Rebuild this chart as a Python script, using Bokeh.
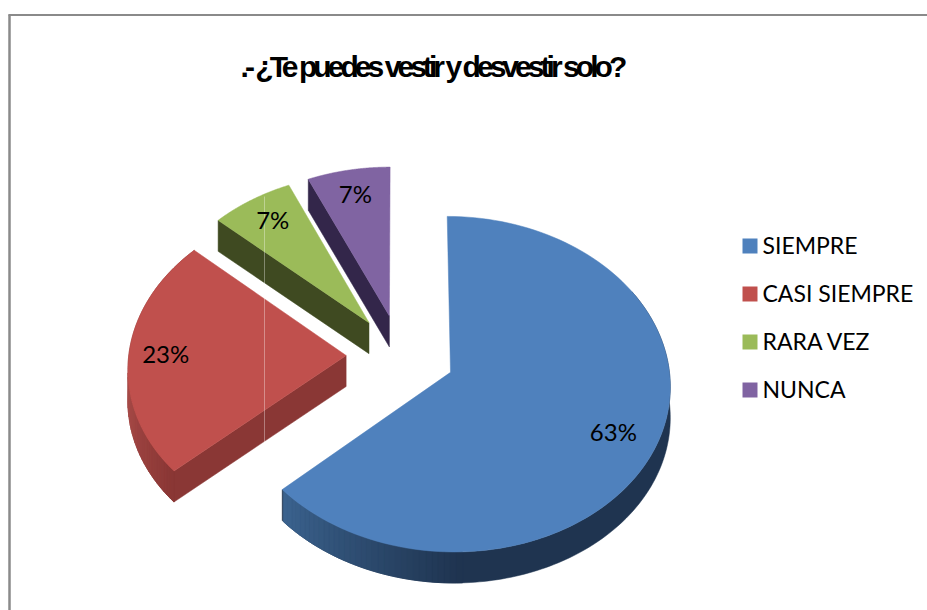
import math
import numpy as np
from bokeh.plotting import figure
from bokeh.models import Range1d
from bokeh.core.properties import value
from bokeh.embed import file_html
from bokeh.resources import INLINE

# ---- data ----
categories = ["SIEMPRE", "CASI SIEMPRE", "RARA VEZ", "NUNCA"]
counts = [19, 7, 2, 2]
pct_labels = ["63%", "23%", "7%", "7%"]
title_text = ".- ¿Te puedes vestir y desvestir solo?"

# ---- styles ----
top_colors = ["#4f81bd", "#c0504d", "#9bbb59", "#8064a2"]
face_colors = [None, "#8a3735", "#3f4a21", "#33264a"]

# ---- projection of the 3-D pie ----
CX, CY, R, Q, K, DEPTH, EXPLODE = 400.0, 355.0, 217.4, 0.757, 0.07, 31, 0.25
label_r = [0.79, 0.83, 0.81, 0.82]
label_dy = [4, -2, -3, -2]


def project(u, v, drop=0.0):
    d = 1 + K * v
    return CX + R * u / d, CY - R * Q * v / d + drop


def lerp_hex(a, b, f):
    f = max(0.0, min(1.0, f))
    ca = [int(a[i:i + 2], 16) for i in (1, 3, 5)]
    cb = [int(b[i:i + 2], 16) for i in (1, 3, 5)]
    return "#%02x%02x%02x" % tuple(round(x + (y - x) * f) for x, y in zip(ca, cb))


total = sum(counts)
edges = np.cumsum([0] + counts) / total * 360.0

p = figure(width=927, height=610, x_range=Range1d(0, 927), y_range=Range1d(610, 0),
           x_axis_location=None, y_axis_location=None, toolbar_location=None,
           output_backend="svg", min_border=0, outline_line_color=None,
           background_fill_color="white", border_fill_color="white")
p.grid.visible = False

# chart frame
p.segment([8], [14.5], [927], [14.5], line_color="#8a8a8a", line_width=2)
p.segment([9], [14], [9], [610], line_color="#8a8a8a", line_width=2.5)


def offset(i):
    mid = math.radians((edges[i] + edges[i + 1]) / 2)
    return EXPLODE * math.sin(mid), EXPLODE * math.cos(mid)


def rim(i, t, r=1.0):
    a = math.radians(t)
    ou, ov = offset(i)
    return ou + r * math.sin(a), ov + r * math.cos(a)


# back-to-front
for i in [3, 2, 1, 0]:
    t0, t1 = edges[i], edges[i + 1]
    ou, ov = offset(i)
    # cut face
    if i > 0:
        cu, cv = rim(i, t0)
        xs, ys = zip(project(ou, ov), project(cu, cv), project(cu, cv, DEPTH), project(ou, ov, DEPTH))
        p.patch(list(xs), list(ys), fill_color=face_colors[i], line_color=face_colors[i], line_width=0.5)
    # rim wall: one base polygon, then colour bands over it
    if i < 2:
        start = t0 + 60 if i == 0 else t0
        arc = np.linspace(start, t1, 150)
        upper = [project(*rim(i, t)) for t in arc]
        lower = [project(*rim(i, t), DEPTH) for t in arc[::-1]]
        base = "#1f3450" if i == 0 else "#8a3735"
        p.patch([q[0] for q in upper + lower], [q[1] for q in upper + lower],
                fill_color=base, line_color=base, line_width=0.5)
        band_lo, band_hi = (178, t1) if i == 0 else (t0, t0 + 36)
        ts = np.arange(band_lo, band_hi + 0.01, 1.5)
        qx, qy, qc = [], [], []
        for a, b in zip(ts[:-1], ts[1:]):
            ua, va = rim(i, a)
            ub, vb = rim(i, b)
            pts = [project(ua, va), project(ub, vb), project(ub, vb, DEPTH), project(ua, va, DEPTH)]
            qx.append([q[0] for q in pts])
            qy.append([q[1] for q in pts])
            if i == 0:
                qc.append(lerp_hex("#1f3450", "#3c6490", (a - 178) / 50))
            else:
                qc.append(lerp_hex("#8a3735", "#a64a47", (a - t0) / 30))
        p.patches(qx, qy, fill_color=qc, line_color=qc, line_width=0.8)
    # top face
    ts = np.linspace(t0, t1, 120)
    pts = [project(ou, ov)] + [project(*rim(i, t)) for t in ts]
    p.patch([q[0] for q in pts], [q[1] for q in pts], fill_color=top_colors[i],
            line_color=top_colors[i], line_width=0.5)

# faint vertical scan seam across the red and green slices
p.segment([264], [196], [264], [445], line_color="white", line_alpha=0.35, line_width=1)

# percentage labels
for i, lab in enumerate(pct_labels):
    mid = (edges[i] + edges[i + 1]) / 2
    x, y = project(*rim(i, mid, label_r[i]))
    p.text([x], [y + label_dy[i]], text=[lab], text_font=value("Lato"), text_font_size="24px",
           text_color="black", text_align="center", text_baseline="middle")

# legend
for i, name in enumerate(categories):
    y = 245.5 + 48 * i
    p.rect([749.5], [y], width=15, height=15, fill_color=top_colors[i], line_color=None)
    p.text([762], [y - 1.5], text=[name], text_font=value("Lato"), text_font_size="23px",
           text_color="black", text_align="left", text_baseline="middle")

# title
p.text([240], [66], text=[title_text], text_font=value("Liberation Sans"), text_font_size="30px",
       text_font_style="bold", text_color="black", text_align="left", text_baseline="middle")

html = file_html(p, INLINE)

# tight tracking of the title, as in the reference
tracking = """<script>
function walk(root){root.querySelectorAll('*').forEach(e=>{
  if(e.tagName==='text' && e.textContent.startsWith('.-')){e.setAttribute('letter-spacing','-3.95');}
  if(e.shadowRoot){walk(e.shadowRoot);}
});}
[100,300,600,1000,1500,2500].forEach(t=>setTimeout(()=>walk(document),t));
</script></body>"""
open("out.html", "w").write(html.replace("</body>", tracking))
